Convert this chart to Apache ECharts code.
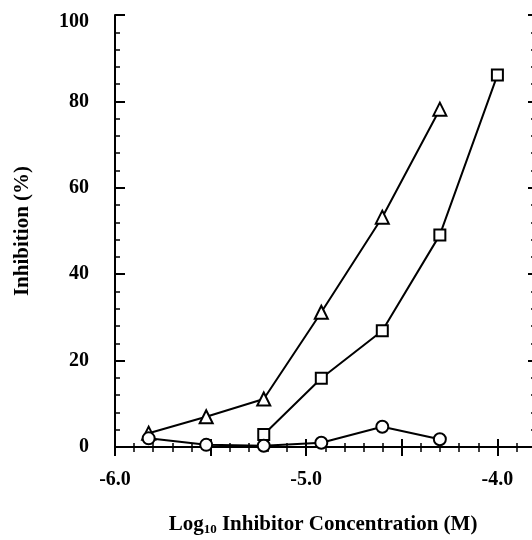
<!DOCTYPE html>
<html>
<head>
<meta charset="utf-8">
<script src="https://cdn.jsdelivr.net/npm/echarts@6/dist/echarts.min.js"></script>
<style>html,body{margin:0;padding:0;background:#fff;}#c{width:532px;height:540px;}</style>
</head>
<body>
<div id="c"></div>
<script>
// Log10 concentrations (M)
const logConc = [-5.824, -5.523, -5.222, -4.921, -4.602, -4.301, -4.0];
// Inhibition (%) per series
const triangleVals = [3.2, 7.0, 11.1, 31.2, 53.2, 78.2, null];
const squareVals   = [null, null, 2.9, 15.9, 26.9, 49.1, 86.1];
const circleVals   = [2.0, 0.5, 0.3, 1.0, 4.7, 1.8, null];
const yTicks = [0, 20, 40, 60, 80, 100];
const xLabelValues = [-6, -5, -4];

const FONT = 'Liberation Serif';
function pairs(vals){ const out=[]; vals.forEach((v,i)=>{ if(v!==null) out.push([logConc[i], v]); }); return out; }

const chart = echarts.init(document.getElementById('c'), null, {renderer:'canvas'});
const seriesBase = {
  type:'line', xAxisIndex:0, yAxisIndex:0, symbolSize:11,
  lineStyle:{color:'#000', width:2},
  itemStyle:{color:'#fff', borderColor:'#000', borderWidth:2},
  animation:false, z:3
};
const yLabelStyle = {fontFamily:FONT, fontWeight:'bold', fontSize:20, color:'#000'};
chart.setOption({
  animation:false,
  backgroundColor:'#fff',
  grid:{left:115, top:15, height:432, width:478, containLabel:false, outerBoundsMode:'none'},
  xAxis:[
    {type:'value', position:'bottom', min:-6, max:-3.5, interval:0.5,
     axisLine:{show:true, lineStyle:{color:'#000', width:2}},
     axisTick:{show:true, inside:true, length:8, lineStyle:{color:'#000', width:2}},
     minorTick:{show:true, splitNumber:5, length:4, lineStyle:{color:'#000', width:1.5}},
     splitLine:{show:false},
     axisLabel:{margin:23, color:'#000', fontFamily:FONT, fontWeight:'bold', fontSize:20,
       formatter:v=> xLabelValues.some(t=>Math.abs(t-v)<1e-6) ? v.toFixed(1) : ''},
     name:'{b|Log}{s|10}{b| Inhibitor Concentration (M)}', nameLocation:'middle', nameGap:66,
     nameTextStyle:{color:'#000', padding:[0,62,0,0], rich:{
       b:{fontFamily:FONT, fontWeight:'bold', fontSize:21, color:'#000'},
       s:{fontFamily:FONT, fontWeight:'bold', fontSize:13, color:'#000', padding:[10,0,0,0]}
     }}},
    {type:'value', position:'top', min:-6, max:-3.5, interval:0.5,
     axisLine:{show:true, lineStyle:{color:'#000', width:1}},
     axisTick:{show:true, inside:true, length:9, lineStyle:{color:'#000', width:2}},
     minorTick:{show:true, splitNumber:5, length:5, lineStyle:{color:'#000', width:1.5}},
     splitLine:{show:false}, axisLabel:{show:false}}
  ],
  yAxis:[
    {type:'value', position:'left', min:0, max:100, interval:20,
     axisLine:{show:true, lineStyle:{color:'#000', width:2}},
     axisTick:{show:true, inside:true, length:10, lineStyle:{color:'#000', width:2}},
     minorTick:{show:true, splitNumber:5, length:5, lineStyle:{color:'#000', width:1.5}},
     splitLine:{show:false},
     axisLabel:{margin:26, color:'#000', fontFamily:FONT, fontWeight:'bold', fontSize:20,
       rich:{n:yLabelStyle, t:Object.assign({}, yLabelStyle, {padding:[13,0,0,0]})},
       formatter:v=> yTicks.includes(v) ? (v===yTicks[yTicks.length-1] ? '{t|'+v+'}' : '{n|'+v+'}') : ''},
     name:'Inhibition (%)', nameLocation:'middle', nameGap:82, nameRotate:90,
     nameTextStyle:{color:'#000', fontFamily:FONT, fontWeight:'bold', fontSize:21}},
    {type:'value', position:'right', offset:-59, min:0, max:100, interval:20,
     axisLine:{show:true, lineStyle:{color:'#000', width:2}},
     axisTick:{show:true, inside:true, length:6, lineStyle:{color:'#000', width:2}},
     minorTick:{show:true, splitNumber:5, length:3, lineStyle:{color:'#000', width:1.5}},
     splitLine:{show:false}, axisLabel:{show:false}}
  ],
  series:[
    Object.assign({}, seriesBase, {name:'triangle', symbol:'triangle', symbolSize:13, data:pairs(triangleVals)}),
    Object.assign({}, seriesBase, {name:'square', symbol:'rect', symbolSize:11, data:pairs(squareVals)}),
    Object.assign({}, seriesBase, {name:'circle', symbol:'circle', symbolSize:12, data:pairs(circleVals)})
  ]
});
</script>
</body>
</html>
